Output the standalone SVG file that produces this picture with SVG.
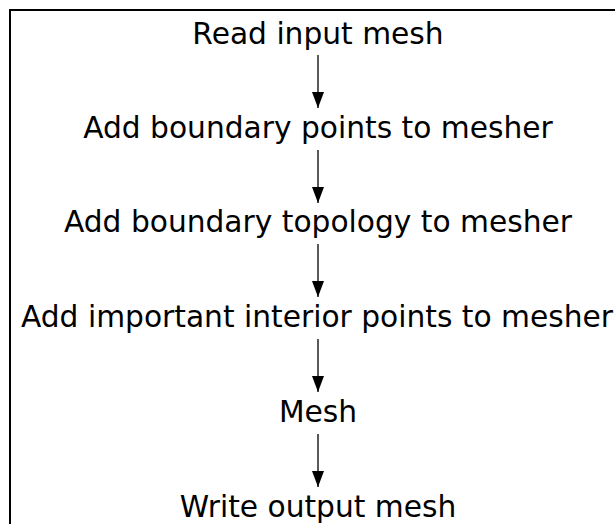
<svg xmlns="http://www.w3.org/2000/svg" width="615" height="524" viewBox="0 0 615 524">
<style>
text{font-family:"DejaVu Sans",sans-serif;font-size:29.7px;fill:#000;text-anchor:middle}
.c line{stroke:#000;stroke-width:1.3}
</style>
<defs>
<marker id="ah" viewBox="0 0 16 12" refX="16" refY="6" markerWidth="16" markerHeight="12" markerUnits="userSpaceOnUse" orient="auto">
<path d="M0,0 L16,6 L0,12 Z" fill="#000"/>
</marker>
</defs>
<rect width="615" height="524" fill="#fff"/>
<rect x="10" y="10" width="640" height="560" fill="none" stroke="#000" stroke-width="2"/>
<g class="c">
<line x1="318" y1="55" x2="318" y2="108" marker-end="url(#ah)"/>
<line x1="318" y1="150" x2="318" y2="203" marker-end="url(#ah)"/>
<line x1="318" y1="244" x2="318" y2="297" marker-end="url(#ah)"/>
<line x1="318" y1="339" x2="318" y2="392" marker-end="url(#ah)"/>
<line x1="318" y1="434" x2="318" y2="487" marker-end="url(#ah)"/>
</g>
<g id="n1"><text x="318" y="44">Read input mesh</text></g>
<g id="n2"><text x="318" y="138">Add boundary points to mesher</text></g>
<g id="n3"><text x="318" y="232">Add boundary topology to mesher</text></g>
<g id="n4"><text x="317" y="327">Add important interior points to mesher</text></g>
<g id="n5"><text x="318" y="422">Mesh</text></g>
<g id="n6"><text x="318" y="517">Write output mesh</text></g>
</svg>
